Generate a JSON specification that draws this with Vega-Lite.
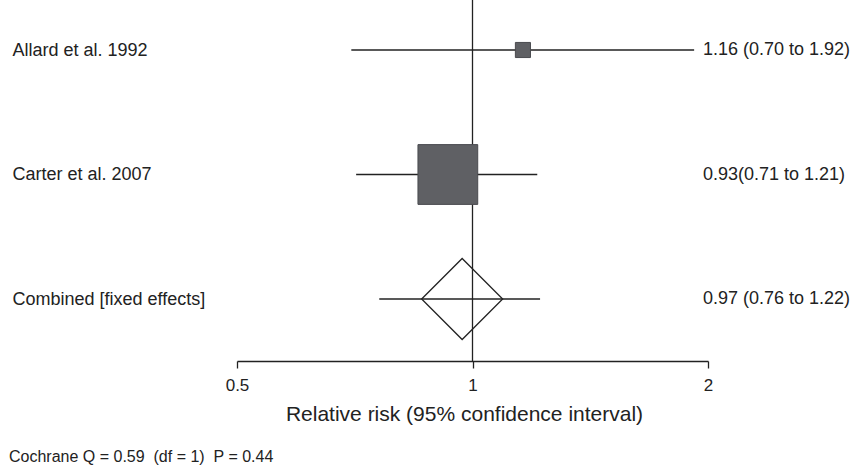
{
  "$schema": "https://vega.github.io/schema/vega-lite/v6.json",
  "autosize": "none",
  "width": 471,
  "height": 361,
  "padding": {"left": 237, "right": 144, "top": 0, "bottom": 113},
  "background": "white",
  "config": {
    "view": {"stroke": null},
    "font": "Liberation Sans",
    "text": {"font": "Liberation Sans"}
  },
  "title": {
    "text": "Cochrane Q = 0.59\u00a0 (df = 1)\u00a0 P = 0.44",
    "orient": "bottom",
    "anchor": "start",
    "frame": "group",
    "dx": -228,
    "offset": 25,
    "fontSize": 16,
    "fontWeight": "normal",
    "font": "Liberation Sans",
    "color": "#222222"
  },
  "data": {
    "values": [
      {"study": "Allard et al. 1992", "rr": 1.16, "lo": 0.70, "hi": 1.92, "weight": 6.0, "kind": "study", "label": "1.16 (0.70 to 1.92)"},
      {"study": "Carter et al. 2007", "rr": 0.93, "lo": 0.71, "hi": 1.21, "weight": 94.0, "kind": "study", "label": "0.93(0.71 to 1.21)"},
      {"study": "Combined [fixed effects]", "rr": 0.97, "lo": 0.76, "hi": 1.22, "weight": 100.0, "kind": "pooled", "label": "0.97 (0.76 to 1.22)"}
    ]
  },
  "encoding": {
    "y": {
      "field": "study",
      "type": "ordinal",
      "sort": null,
      "scale": {"type": "point", "range": [50, 299], "padding": 0},
      "axis": {
        "title": null,
        "orient": "left",
        "domain": false,
        "ticks": false,
        "tickSize": 0,
        "labelAlign": "left",
        "labelBaseline": "middle",
        "labelPadding": 225,
        "labelFontSize": 18,
        "labelFont": "Liberation Sans",
        "labelColor": "#222222",
        "labelLimit": 400
      }
    }
  },
  "layer": [
    {
      "mark": {"type": "rule", "color": "#222222", "strokeWidth": 1.3},
      "encoding": {
        "x": {
          "field": "lo",
          "type": "quantitative",
          "scale": {"type": "log", "domain": [0.5, 2], "nice": false, "zero": false},
          "axis": {
            "values": [0.5, 1, 2],
            "format": "~g",
            "grid": false,
            "labelFlush": false,
            "domainColor": "#222222",
            "domainWidth": 1.3,
            "tickColor": "#222222",
            "tickWidth": 1.3,
            "tickSize": 7,
            "labelFontSize": 17,
            "labelFont": "Liberation Sans",
            "labelColor": "#222222",
            "labelPadding": 9,
            "title": "Relative risk (95% confidence interval)",
            "titleFontSize": 21,
            "titleFont": "Liberation Sans",
            "titleFontWeight": "normal",
            "titleColor": "#222222",
            "titlePadding": 10,
            "titleX": 227
          }
        },
        "x2": {"field": "hi"}
      }
    },
    {
      "data": {"values": [{"ref": 1}]},
      "mark": {"type": "rule", "color": "#222222", "strokeWidth": 1.3},
      "encoding": {
        "x": {"field": "ref", "type": "quantitative"},
        "y": null
      }
    },
    {
      "transform": [{"filter": "datum.kind === 'study'"}],
      "mark": {"type": "point", "shape": "square", "filled": true, "color": "#5f6064", "opacity": 1, "stroke": "#4a4b4f", "strokeWidth": 1},
      "encoding": {
        "x": {"field": "rr", "type": "quantitative"},
        "size": {"field": "weight", "type": "quantitative", "scale": {"domain": [0, 100], "range": [0, 3800]}, "legend": null}
      }
    },
    {
      "transform": [{"filter": "datum.kind === 'pooled'"}],
      "mark": {"type": "point", "shape": "diamond", "filled": false, "stroke": "#222222", "strokeWidth": 1.3, "opacity": 1, "size": 6561},
      "encoding": {
        "x": {"field": "rr", "type": "quantitative"}
      }
    },
    {
      "mark": {"type": "text", "align": "left", "baseline": "middle", "dx": -5, "fontSize": 18, "font": "Liberation Sans", "color": "#222222"},
      "encoding": {
        "x": {"value": "width"},
        "text": {"field": "label"}
      }
    }
  ]
}
